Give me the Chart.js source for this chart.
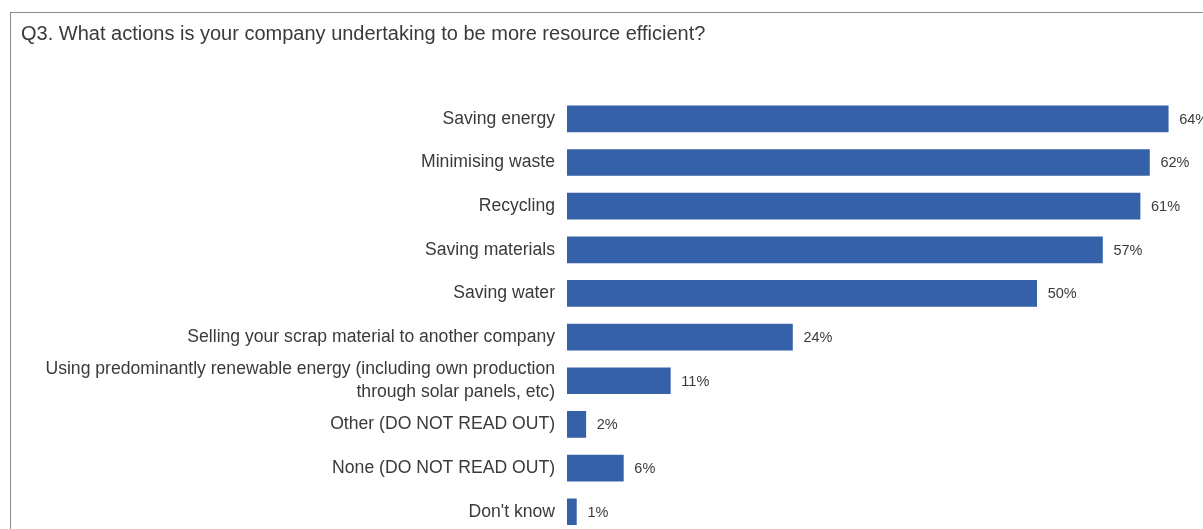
<!DOCTYPE html>
<html>
<head>
<meta charset="utf-8">
<script src="https://cdn.jsdelivr.net/npm/chart.js@4"></script>
<style>
  html, body { margin: 0; padding: 0; background: #fff; overflow: hidden; }
  #frame { position: absolute; left: 10px; top: 12px; width: 2000px; height: 2000px; border: 1.5px solid #8c8c8c; }
  #wrap { position: absolute; left: 0; top: 0; width: 1203px; height: 557px; }
</style>
</head>
<body>
<div id="frame"></div>
<div id="wrap"><canvas id="c"></canvas></div>
<script>
// Q3 resource efficiency actions, % of companies
const titleText = 'Q3. What actions is your company undertaking to be more resource efficient?';
const actions = [
  'Saving energy',
  'Minimising waste',
  'Recycling',
  'Saving materials',
  'Saving water',
  'Selling your scrap material to another company',
  ['Using predominantly renewable energy (including own production', 'through solar panels, etc)'],
  'Other (DO NOT READ OUT)',
  'None (DO NOT READ OUT)',
  "Don't know",
];
const shares = [64, 62, 61, 57, 50, 24, 11, 2, 6, 1];

const BAR = '#3561a9';
const TXT = '#3a3a3a';
Chart.defaults.font.family = "'Liberation Sans', Arial, sans-serif";

// prints "xx%" just right of each bar
const valueLabels = {
  id: 'valueLabels',
  afterDatasetsDraw(chart) {
    const { ctx } = chart;
    const meta = chart.getDatasetMeta(0);
    ctx.save();
    ctx.font = "14.5px 'Liberation Sans', Arial, sans-serif";
    ctx.fillStyle = TXT;
    ctx.textAlign = 'left';
    ctx.textBaseline = 'middle';
    meta.data.forEach((bar, i) => {
      ctx.fillText(shares[i] + '%', bar.x + 11, bar.y + 1);
    });
    ctx.restore();
  },
};

new Chart(document.getElementById('c'), {
  type: 'bar',
  data: {
    labels: actions,
    datasets: [{ data: shares, backgroundColor: BAR, barThickness: 26 }],
  },
  options: {
    indexAxis: 'y',
    responsive: true, maintainAspectRatio: false, animation: false,
    layout: { padding: { left: 21, right: 0, top: 0, bottom: 6 } },
    plugins: {
      legend: { display: false },
      tooltip: { enabled: false },
      title: {
        display: true, text: titleText, align: 'start', color: TXT,
        font: { size: 20, weight: 'normal' },
        padding: { top: 22, bottom: 51 },
      },
    },
    scales: {
      x: { display: false, min: 0, max: 67.7 },
      y: {
        grid: { display: false, drawTicks: false },
        border: { display: false },
        ticks: { color: TXT, padding: 12, font: { size: 17.6, lineHeight: 1.3 }, autoSkip: false },
        afterFit: s => { s.width = 567 - 21; },
      },
    },
  },
  plugins: [valueLabels],
});
</script>
</body>
</html>
